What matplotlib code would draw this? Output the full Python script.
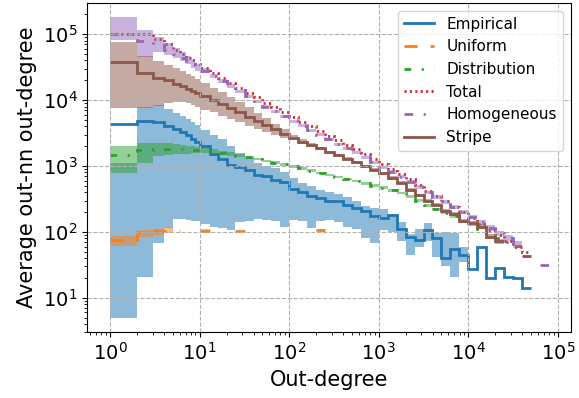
import numpy as np
import matplotlib
matplotlib.use("Agg")
import matplotlib.pyplot as plt

nan = np.nan

# out-degree bin edges (log binned above 10)
deg_edges = [1, 2, 3, 4, 5, 6, 7, 8, 9, 10, 13, 16, 20, 25, 32, 40, 50, 63, 79, 100,
             126, 158, 200, 251, 316, 398, 501, 631, 794, 1000, 1259, 1585, 1995, 2512,
             3162, 3981, 5012, 6310, 7943, 10000, 12589, 15849, 19953, 25119, 31623,
             39811, 50119, 63096, 79433]

# average out-nn out-degree per bin, with band limits
empirical = [4400, 4800, 4600, 4100, 3700, 3300, 2950, 2600, 2300,
             2000, 1550, 1300, 1050, 980, 870, 740, 700, 620, 580,
             450, 410, 355, 330, 290, 290, 255, 230, 210, 175,
             165, 180, 110, 85, 75, 107, 80, 40, 55, 45,
             27, 60, 20, 28, 21, 20, 14, nan, nan]
empirical_lo = [5, 21, 68, 115, 155, 155, 150, 148, 148,
                130, 120, 115, 108, 140, 145, 160, 150, 145, 120,
                150, 145, 115, 145, 150, 140, 120, 110, 80, 68,
                108, 100, 72, 44, 60, 72, 41, 30, 21, 35,
                nan, nan, nan, nan, nan, nan, nan, nan, nan]
empirical_hi = [1130, 8000, 8300, 7400, 6400, 5700, 5200, 4600, 4200,
                3500, 3000, 2600, 2000, 1600, 1320, 1100, 1000, 930, 800,
                660, 560, 500, 440, 410, 375, 340, 300, 245, 235,
                220, 190, 140, 92, 110, 135, 95, 100, 95, 60,
                nan, nan, nan, nan, nan, nan, nan, nan, nan]

uniform = [76, 99, 102, 104, 105, nan, nan, nan, nan,
           103, nan, nan, nan, 104, nan, nan, nan, nan, nan,
           nan, nan, nan, 106, nan, nan, nan, nan, nan, nan,
           nan, nan, nan, nan, nan, nan, nan, nan, nan, nan,
           nan, nan, nan, nan, nan, nan, nan, nan, nan]
uniform_lo = [62, 83, 91, 97, nan, nan, nan, nan, nan,
              98] + [nan] * 38
uniform_hi = [88, 107, 112, 117, nan, nan, nan, nan, nan,
              112] + [nan] * 38

distribution = [1450, 1750, 1800, 1800, 1800, 1790, 1770, 1750, 1730,
                1700, 1650, 1580, 1500, 1430, 1360, 1280, 1200, 1130, 1060,
                990, 920, 850, 790, 730, 680, 630, 590, 545, 505,
                470, 430, 390, 345, 300, 255, 222, 195, 172, 150,
                130, 112, 98, 82, 70, 62, nan, nan, nan]
distribution_lo = [780, 1130, 1400, 1450, 1500, 1530, 1550, 1560, 1560,
                   1560, 1530, 1480, 1420, 1360, 1300, 1220, 1150, 1080, 1010,
                   945, 880, 815, 755, 700, 650, 605, 565, 520, 485,
                   450, 410, 372, 330, 287, 243, 212, 186, 164, nan,
                   nan, nan, nan, nan, nan, nan, nan, nan, nan]
distribution_hi = [2000, 2200, 2250, 2200, 2150, 2100, 2050, 2000, 1950,
                   1900, 1800, 1720, 1630, 1520, 1430, 1340, 1250, 1180, 1110,
                   1035, 960, 890, 825, 760, 710, 655, 615, 570, 525,
                   490, 450, 408, 360, 313, 267, 232, 204, 180, nan,
                   nan, nan, nan, nan, nan, nan, nan, nan, nan]

total = [100000, 100000, 84000, 71000, 58000, 50000, 43000, 40000, 35000,
         31000, 26000, 22000, 18500, 15500, 13000, 11000, 9200, 7800, 6500,
         5500, 4700, 4000, 3400, 2900, 2450, 2100, 1800, 1530, 1300,
         1080, 910, 760, 630, 510, 420, 350, 290, 240, 200,
         165, 132, 108, 90, 72, 60, 49, nan, nan]

homogeneous = [100000, 79000, 69000, 58000, 50000, 44000, 39000, 34000, 31000,
               28000, 23000, 19500, 16200, 13600, 11400, 9600, 8000, 6800, 5700,
               4800, 4100, 3500, 3000, 2550, 2150, 1850, 1580, 1350, 1150,
               960, 815, 690, 580, 480, 400, 340, 285, 240, 200,
               170, 140, 115, 95, 80, 65, nan, nan, 31]
homogeneous_lo = [82000, 45000, 53000, 48000, 43000, 39000, 35000, 31000, 28000,
                  25500, 21500, 18300, 15200, 12800, 10800, 9100, 7600, 6450, 5400,
                  4550, 3880, 3320, 2840, 2420, 2040, 1750, 1500, 1280, 1090,
                  910, 770, 650, 545, 450, 375, 318, 265, 223, 185,
                  157, 128, 105, 86, 72, 58, nan, nan, nan]
homogeneous_hi = [185000, 116000, 90000, 74000, 62000, 53000, 46000, 40000, 35000,
                  31000, 25000, 20800, 17300, 14500, 12100, 10200, 8500, 7200, 6000,
                  5050, 4320, 3690, 3160, 2690, 2270, 1950, 1670, 1420, 1210,
                  1010, 860, 730, 615, 510, 425, 362, 305, 258, 216,
                  184, 153, 126, 105, 89, 73, nan, nan, nan]

stripe = [38500, 26000, 22000, 20000, 17700, 16200, 15000, 13800, 12700,
          11500, 10000, 8800, 7600, 6500, 5600, 4800, 4200, 3600, 3100,
          2700, 2350, 2100, 1850, 1620, 1450, 1300, 1150, 990, 880,
          780, 660, 560, 430, 360, 300, 260, 210, 190, 145,
          135, 120, 85, 72, nan, nan, 43, nan, nan]
stripe_lo = [7700, 7600, 8200, 9000, 9300, 9300, 9000, 8500, 8000,
             7200, 6500, 5800, 5200, 4600, 4100, 3700, 3300, 3000, 2700,
             2450, 2180, 1980, 1750, 1540, 1380, 1240, 1090, 940, 840,
             740, 625, 530, 405, 340, 282, 244, 196, 176, 135,
             125, 110, 78, 66, nan, nan, nan, nan, nan]
stripe_hi = [77000, 46000, 39000, 34000, 31000, 28000, 25000, 23000, 21000,
             18000, 15500, 13300, 11200, 9400, 7800, 6400, 5300, 4400, 3600,
             3000, 2550, 2230, 1950, 1700, 1520, 1370, 1210, 1040, 925,
             825, 700, 590, 460, 380, 318, 276, 224, 204, 155,
             145, 130, 92, 78, nan, nan, nan, nan, nan]

series = [
    ("Empirical", empirical, empirical_lo, empirical_hi, "tab:blue", "-"),
    ("Uniform", uniform, uniform_lo, uniform_hi, "tab:orange", (0, (4.7, 4.7))),
    ("Distribution", distribution, distribution_lo, distribution_hi, "tab:green", (0, (2.4, 3.8, 0.75, 3.8))),
    ("Total", total, None, None, "tab:red", (0, (0.75, 1.2))),
    ("Homogeneous", homogeneous, homogeneous_lo, homogeneous_hi, "tab:purple", (0, (3.1, 3.8, 0.75, 3.8))),
    ("Stripe", stripe, stripe_lo, stripe_hi, "tab:brown", "-"),
]

fig, ax = plt.subplots(figsize=(5.79, 3.98), dpi=100)
fig.subplots_adjust(left=0.151, right=0.9857, bottom=0.165, top=0.9925)

for name, vals, lo, hi, color, ls in series:
    if lo is not None:
        ax.stairs(np.array(hi, float), deg_edges, baseline=np.array(lo, float),
                  fill=True, color=color, alpha=0.5, lw=0)
    ax.stairs(np.array(vals, float), deg_edges, baseline=None, color=color,
              ls=ls, lw=2, label=name)

ax.set_xscale("log")
ax.set_yscale("log")
ax.set_xlim(0.56, 1.39e5)
ax.set_ylim(3.0, 2.98e5)
ax.grid(True, which="major", ls="--", color="#b0b0b0", lw=0.8)
ax.tick_params(labelsize=14)
ax.set_xlabel("Out-degree", fontsize=15)
ax.set_ylabel("Average out-nn out-degree", fontsize=15)
ax.legend(loc="upper right", fontsize=11)

fig.savefig("out.png", dpi=100)
